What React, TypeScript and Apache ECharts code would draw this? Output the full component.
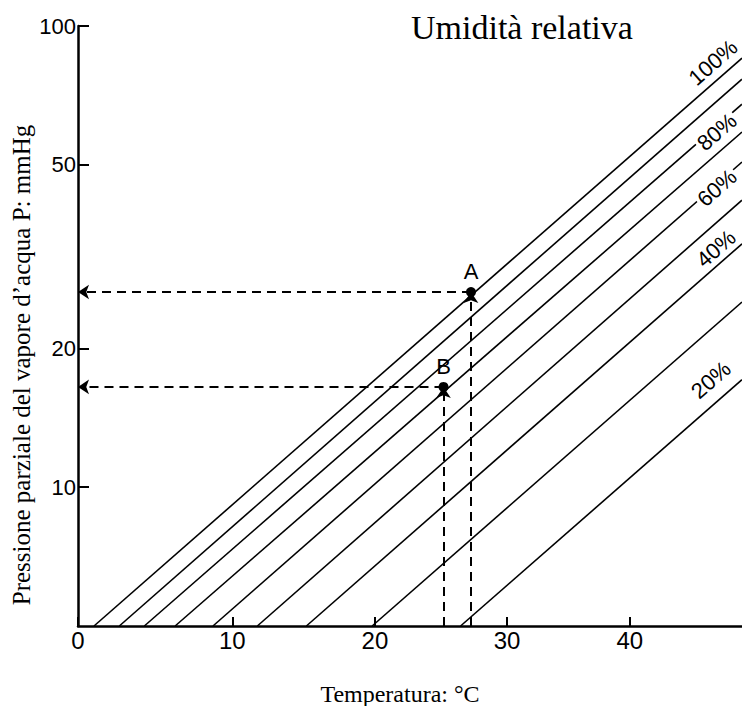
import React, { useEffect, useRef } from 'react';
import * as echarts from 'echarts';

// ---- data ----
const RH_LABELS = ['100%', '90%', '80%', '70%', '60%', '50%', '40%', '30%', '20%'];
// temperature (°C) where each relative-humidity line meets the bottom of the chart (P = 5 mmHg)
const RH_START_T = [1.0, 2.6, 4.2, 6.2, 8.7, 11.7, 15.1, 19.8, 26.4];
// pressure (mmHg) of each line at the right edge of the chart (T = T_MAX)
const RH_END_P = [85.2, 76.7, 67.7, 58.9, 50.7, 41.9, 33.7, 25.2, 17.1];
const P_MIN = 5;
const P_MAX = 100;
const T_MIN = 0;
const T_MAX = 49.8;
const X_TICKS = [0, 10, 20, 30, 40];
const Y_TICKS = [10, 20, 50, 100];
const POINT_NAMES = ['A', 'B'];
const POINT_T = [27.2, 25.1];
const POINT_P = [26.5, 16.5];
const SHOWN_LABELS = ['100%', '80%', '60%', '40%', '20%'];

// ---- label layout (style, not data) ----
const LABEL_LAYOUT: Record<string, { x: number; dy: number; inline: boolean }> = {
  '100%': { x: 713, dy: -21, inline: false },
  '80%': { x: 717, dy: 6, inline: true },
  '60%': { x: 717, dy: 4, inline: true },
  '40%': { x: 716, dy: -18, inline: false },
  '20%': { x: 711, dy: -27, inline: false },
};

// temperature axis: scaled as log10 of the saturation vapour pressure (mmHg)
const psat = (t: number) => 6.1094 * Math.exp((17.625 * t) / (t + 243.04)) * 0.750062;
const tx = (t: number) => Math.log10(psat(t));

const SANS = '"Liberation Sans", Arial, sans-serif';
const SERIF = '"Liberation Serif", "Times New Roman", serif';

export default function App() {
  const ref = useRef<HTMLDivElement>(null);

  useEffect(() => {
    const chart = echarts.init(ref.current!, null, { renderer: 'svg' });
    const xTickVals = X_TICKS.map(tx);

    const rhSeries = RH_LABELS.map((name, i) => ({
      type: 'line',
      name,
      data: [
        [tx(RH_START_T[i]), P_MIN],
        [tx(T_MAX), RH_END_P[i]],
      ],
      symbol: 'none',
      silent: true,
      lineStyle: { color: '#000', width: 1.6 },
      z: 2,
    }));

    const markData: any[] = [];
    POINT_NAMES.forEach((_, i) => {
      const x = tx(POINT_T[i]);
      markData.push([{ coord: [x, P_MIN] }, { coord: [x, POINT_P[i]] }]);
      markData.push([{ coord: [x, POINT_P[i]] }, { coord: [tx(T_MIN), POINT_P[i]] }]);
    });

    const pointSeries = {
      type: 'scatter',
      name: 'points',
      data: POINT_NAMES.map((n, i) => [tx(POINT_T[i]), POINT_P[i], n]),
      symbol: 'circle',
      symbolSize: 10,
      itemStyle: { color: '#000', opacity: 1 },
      silent: true,
      z: 5,
      label: {
        show: true,
        position: 'top',
        distance: 4,
        formatter: (p: any) => p.value[2],
        color: '#000',
        fontSize: 22,
        fontFamily: SANS,
        opacity: 1,
      },
      markLine: {
        silent: true,
        symbol: ['none', 'arrow'],
        symbolSize: 11,
        label: { show: false },
        itemStyle: { color: '#000', opacity: 1 },
        lineStyle: { color: '#000', width: 2, type: [9, 6], opacity: 1 },
        emphasis: { disabled: true },
        data: markData,
      },
    };

    const option: any = {
      animation: false,
      backgroundColor: '#fff',
      grid: { left: 78, top: 26, width: 664, height: 600, containLabel: false, outerBoundsMode: 'none' },
      xAxis: {
        type: 'value',
        min: tx(T_MIN),
        max: tx(T_MAX),
        axisLine: { show: true, onZero: false, lineStyle: { color: '#000', width: 2.5 } },
        axisTick: {
          show: true,
          inside: true,
          length: 9,
          customValues: xTickVals,
          lineStyle: { color: '#000', width: 2 },
        },
        axisLabel: {
          customValues: xTickVals,
          formatter: (v: number) => {
            const i = xTickVals.findIndex((t) => Math.abs(t - v) < 1e-6);
            return i >= 0 ? String(X_TICKS[i]) : '';
          },
          color: '#000',
          fontSize: 24,
          fontFamily: SANS,
          margin: 2,
        },
        splitLine: { show: false },
      },
      yAxis: {
        type: 'log',
        logBase: 10,
        min: P_MIN,
        max: P_MAX,
        axisLine: { show: true, onZero: false, lineStyle: { color: '#000', width: 2.5 } },
        axisTick: {
          show: true,
          inside: true,
          length: 11,
          customValues: Y_TICKS,
          lineStyle: { color: '#000', width: 2 },
        },
        axisLabel: {
          customValues: Y_TICKS,
          formatter: (v: number) => String(Math.round(v)),
          color: '#000',
          fontSize: 22,
          fontFamily: SANS,
          margin: 2,
        },
        splitLine: { show: false },
        minorTick: { show: false },
      },
      series: [...rhSeries, pointSeries],
    };

    chart.setOption(option);

    const graphics: any[] = [
      {
        type: 'text',
        x: 411,
        y: 27,
        style: {
          text: 'Umidità relativa',
          font: `34px ${SERIF}`,
          fill: '#000',
          align: 'left',
          verticalAlign: 'middle',
        },
      },
      {
        type: 'text',
        x: 400,
        y: 694,
        style: {
          text: 'Temperatura: °C',
          font: `24px ${SERIF}`,
          fill: '#000',
          align: 'center',
          verticalAlign: 'middle',
        },
      },
      {
        type: 'text',
        x: 21,
        y: 365,
        rotation: Math.PI / 2,
        style: {
          text: 'Pressione parziale del vapore d’acqua P: mmHg',
          font: `25px ${SERIF}`,
          fill: '#000',
          align: 'center',
          verticalAlign: 'middle',
        },
      },
    ];

    SHOWN_LABELS.forEach((lab) => {
      const i = RH_LABELS.indexOf(lab);
      const lay = LABEL_LAYOUT[lab];
      const p1 = chart.convertToPixel({ gridIndex: 0 }, [tx(RH_START_T[i]), P_MIN]) as number[];
      const p2 = chart.convertToPixel({ gridIndex: 0 }, [tx(T_MAX), RH_END_P[i]]) as number[];
      const m = (p2[1] - p1[1]) / (p2[0] - p1[0]);
      const ang = Math.atan(-m);
      const y = p1[1] + m * (lay.x - p1[0]) + lay.dy;
      graphics.push({
        type: 'text',
        x: lay.x,
        y,
        rotation: ang,
        z: 10,
        style: {
          text: lab,
          font: `22px ${SANS}`,
          fill: '#000',
          align: 'center',
          verticalAlign: 'middle',
          backgroundColor: lay.inline ? '#fff' : 'transparent',
          padding: lay.inline ? [0, 2] : 0,
        },
      });
    });

    chart.setOption({ graphic: graphics });

    return () => {
      chart.dispose();
    };
  }, []);

  return (
    <div
      ref={ref}
      style={{ position: 'absolute', left: 0, top: 0, width: 742, height: 706, background: '#fff' }}
    />
  );
}
